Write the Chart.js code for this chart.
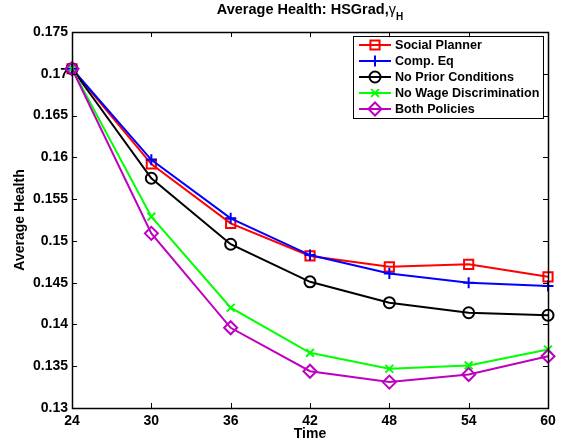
<!DOCTYPE html>
<html>
<head>
<meta charset="utf-8">
<script src="https://cdn.jsdelivr.net/npm/chart.js"></script>
<style>
    html, body { margin: 0; padding: 0; background: #fff; }
    canvas { display: block; }
</style>
</head>
<body>
<canvas id="healthChart" width="570" height="444"></canvas>
<script>
    // periods (age) and average health by policy scenario
    const periods = [24, 30, 36, 42, 48, 54, 60];
    const socialPlanner = [0.1706, 0.1592, 0.1521, 0.1482, 0.1469, 0.1472, 0.1457];
    const compEq = [0.1706, 0.1597, 0.1527, 0.1483, 0.1461, 0.1450, 0.1446];
    const noPriorConditions = [0.1706, 0.1575, 0.1496, 0.1451, 0.1426, 0.1414, 0.1411];
    const noWageDiscrimination = [0.1706, 0.1529, 0.1420, 0.1366, 0.1347, 0.1351, 0.1370];
    const bothPolicies = [0.1706, 0.1509, 0.1396, 0.1344, 0.1331, 0.1340, 0.1362];

    const seriesNames = ['Social Planner', 'Comp. Eq', 'No Prior Conditions', 'No Wage Discrimination', 'Both Policies'];
    const xTicks = [24, 30, 36, 42, 48, 54, 60];
    const yTicks = [0.13, 0.135, 0.14, 0.145, 0.15, 0.155, 0.16, 0.165, 0.17, 0.175];

    const FONT = '"Liberation Sans", Arial, Helvetica, sans-serif';

    function series(label, values, color, style, radius, order) {
        return {
            label: label,
            data: periods.map((p, i) => ({ x: p, y: values[i] })),
            borderColor: color,
            backgroundColor: color,
            borderWidth: 2,
            pointStyle: style,
            pointRadius: radius,
            pointHoverRadius: radius,
            pointBorderColor: color,
            pointBackgroundColor: 'rgba(0,0,0,0)',
            pointBorderWidth: 2,
            tension: 0,
            clip: false,
            order: order
        };
    }

    const datasets = [
        series(seriesNames[0], socialPlanner, '#ff0000', 'rect', 6.5, 5),
        series(seriesNames[1], compEq, '#0000ff', 'cross', 5.5, 4),
        series(seriesNames[2], noPriorConditions, '#000000', 'circle', 5.5, 3),
        series(seriesNames[3], noWageDiscrimination, '#00ff00', 'crossRot', 5.5, 2),
        series(seriesNames[4], bothPolicies, '#bf00bf', 'rectRot', 6.5, 1)
    ];

    // axes box, inward ticks, titles and the boxed legend
    const matlabFrame = {
        id: 'matlabFrame',
        afterDraw(chart) {
            const ctx = chart.ctx;
            const area = chart.chartArea;
            const xs = chart.scales.x, ys = chart.scales.y;
            const tick = 5;

            ctx.save();
            ctx.strokeStyle = '#000';
            ctx.lineWidth = 1;
            ctx.beginPath();
            xTicks.forEach(v => {
                const px = Math.round(xs.getPixelForValue(v)) + 0.5;
                ctx.moveTo(px, area.bottom); ctx.lineTo(px, area.bottom - tick);
                ctx.moveTo(px, area.top); ctx.lineTo(px, area.top + tick);
            });
            yTicks.forEach(v => {
                const py = Math.round(ys.getPixelForValue(v)) + 0.5;
                ctx.moveTo(area.left, py); ctx.lineTo(area.left + tick, py);
                ctx.moveTo(area.right, py); ctx.lineTo(area.right - tick, py);
            });
            ctx.stroke();
            ctx.lineWidth = 1.5;
            ctx.strokeRect(Math.round(area.left) + 0.5, Math.round(area.top) + 0.5,
                Math.round(area.right - area.left), Math.round(area.bottom - area.top));

            // title with gamma subscript
            const cx = (area.left + area.right) / 2;
            const mainText = 'Average Health: HSGrad,';
            ctx.fillStyle = '#000';
            ctx.textBaseline = 'alphabetic';
            ctx.font = 'bold 14.5px ' + FONT;
            const w1 = ctx.measureText(mainText).width;
            ctx.font = '14.5px ' + FONT;
            const w2 = ctx.measureText('γ').width;
            ctx.font = 'bold 10px ' + FONT;
            const w3 = ctx.measureText('H').width;
            let tx = cx - (w1 + w2 + w3) / 2;
            ctx.textAlign = 'left';
            ctx.font = 'bold 14.5px ' + FONT;
            ctx.fillText(mainText, tx, 14);
            tx += w1;
            ctx.font = '14.5px ' + FONT;
            ctx.fillText('γ', tx, 14);
            tx += w2;
            ctx.font = 'bold 10px ' + FONT;
            ctx.fillText('H', tx, 20);

            // axis titles
            ctx.font = 'bold 14px ' + FONT;
            ctx.textAlign = 'center';
            ctx.textBaseline = 'middle';
            ctx.fillText('Time', cx, 434);
            ctx.save();
            ctx.translate(20, (area.top + area.bottom) / 2);
            ctx.rotate(-Math.PI / 2);
            ctx.fillText('Average Health', 0, 0);
            ctx.restore();

            // legend
            const lx = 353, ly = 36, lw = 190, lh = 82;
            ctx.fillStyle = '#fff';
            ctx.fillRect(lx, ly, lw, lh);
            ctx.lineWidth = 1;
            ctx.strokeStyle = '#000';
            ctx.strokeRect(lx + 0.5, ly + 0.5, lw, lh);
            ctx.font = 'bold 12.6px ' + FONT;
            ctx.textAlign = 'left';
            ctx.textBaseline = 'middle';
            chart.data.datasets.forEach((ds, i) => {
                const y = ly + 9 + i * 16;
                ctx.strokeStyle = ds.borderColor;
                ctx.lineWidth = 2;
                ctx.beginPath();
                ctx.moveTo(lx + 6, y);
                ctx.lineTo(lx + 38, y);
                ctx.stroke();
                ctx.fillStyle = 'rgba(0,0,0,0)';
                Chart.helpers.drawPoint(ctx, {
                    pointStyle: ds.pointStyle,
                    radius: ds.pointRadius,
                    borderWidth: 2,
                    rotation: 0
                }, lx + 22, y);
                ctx.fillStyle = '#000';
                ctx.fillText(ds.label, lx + 42, y + 1);
            });
            ctx.restore();
        }
    };

    new Chart(document.getElementById('healthChart'), {
        type: 'line',
        data: { datasets: datasets },
        options: {
            responsive: false,
            animation: false,
            devicePixelRatio: 1,
            layout: { padding: { top: 32, right: 22, left: 0, bottom: 0 } },
            plugins: {
                legend: { display: false },
                title: { display: false },
                tooltip: { enabled: false }
            },
            scales: {
                x: {
                    type: 'linear',
                    min: 24,
                    max: 60,
                    afterBuildTicks: s => { s.ticks = xTicks.map(v => ({ value: v })); },
                    afterFit: s => { s.height = 36; },
                    grid: { display: false, drawTicks: false },
                    border: { display: false },
                    ticks: {
                        color: '#000',
                        padding: 5,
                        maxRotation: 0,
                        font: { family: FONT, size: 14, weight: 'bold' }
                    }
                },
                y: {
                    type: 'linear',
                    min: 0.13,
                    max: 0.175,
                    afterBuildTicks: s => { s.ticks = yTicks.map(v => ({ value: v })); },
                    afterFit: s => { s.width = 72; },
                    grid: { display: false, drawTicks: false },
                    border: { display: false },
                    ticks: {
                        color: '#000',
                        padding: 4,
                        font: { family: FONT, size: 14, weight: 'bold' },
                        callback: v => String(Number(v.toFixed(3)))
                    }
                }
            }
        },
        plugins: [matlabFrame]
    });
</script>
</body>
</html>
